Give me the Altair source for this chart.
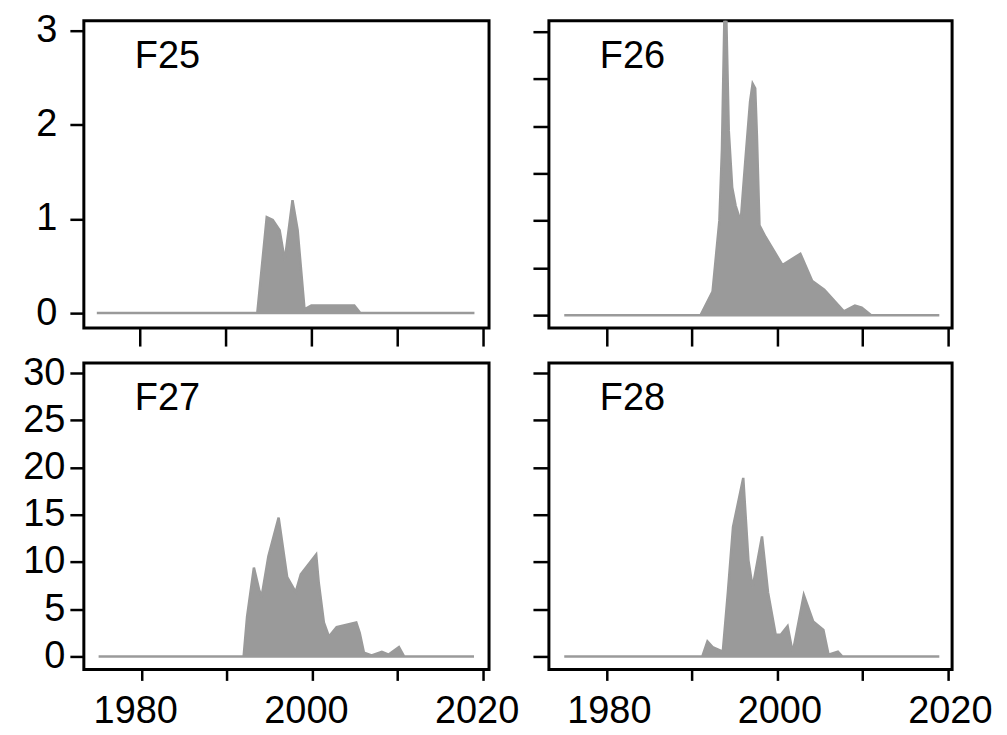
import altair as alt
import pandas as pd

# ---- data ----
yrs25 = [1975, 1993.7, 1994.8, 1995.5, 1996.3, 1996.9, 1997.8, 1998.4, 1999.2, 2000.0, 2002.0, 2005.0, 2005.7, 2019]
val25 = [0, 0, 1.02, 0.99, 0.88, 0.56, 1.2, 0.88, 0.04, 0.08, 0.08, 0.08, 0, 0]

yrs26 = [1975, 1991.0, 1992.4, 1993.2, 1993.5, 1993.8, 1994.0, 1994.3, 1994.7, 1995.1, 1995.7, 1996.0, 1996.3,
         1996.8, 1997.1, 1997.4, 1997.6, 1997.9, 1998.6, 2000.6, 2002.7, 2004.1, 2005.5, 2007.8, 2009.1, 2009.9,
         2011.0, 2019]
val26 = [0, 0, 0.25, 1.0, 1.75, 3.2, 3.2, 1.95, 1.35, 1.16, 0.99, 1.35, 1.7,
         2.26, 2.45, 2.4, 1.9, 0.95, 0.83, 0.53, 0.65, 0.36, 0.27, 0.04, 0.1, 0.08,
         0, 0]

yrs27 = [1975, 1992.0, 1992.4, 1993.2, 1993.8, 1994.1, 1994.9, 1996.1, 1997.1, 1998.1, 1998.7, 2000.5, 2000.8,
         2001.4, 2002.0, 2002.9, 2005.2, 2005.6, 2006.1, 2007.0, 2008.2, 2009.0, 2010.2, 2010.8, 2019]
val27 = [0, 0, 4.2, 9.4, 7.1, 6.3, 10.6, 14.7, 8.4, 6.8, 8.7, 10.8, 7.8,
         3.6, 2.1, 3.1, 3.6, 2.5, 0.4, 0.1, 0.5, 0.2, 1.0, 0, 0]

yrs28 = [1975, 1991.2, 1991.8, 1992.4, 1993.6, 1994.2, 1994.8, 1996.0, 1996.6, 1997.1, 1998.2, 1998.9, 1999.8,
         2000.4, 2001.2, 2001.8, 2003.1, 2004.2, 2005.4, 2006.0, 2007.1, 2007.6, 2019]
val28 = [0, 0, 1.6, 1.0, 0.5, 6.8, 13.7, 18.9, 10.2, 7.3, 12.7, 6.8, 2.3,
         2.3, 3.2, 0.4, 6.5, 3.7, 2.8, 0.2, 0.5, 0, 0]

labels = ["F25", "F26", "F27", "F28"]
x_ticks = [1980, 1990, 2000, 2010, 2020]
y_ticks_small_left = [0, 1, 2, 3]
y_ticks_small_right = [0, 0.5, 1, 1.5, 2, 2.5, 3]
y_ticks_large = [0, 5, 10, 15, 20, 25, 30]

FONT = "Liberation Sans"
GREY = "#9a9a9a"


def panel(years, vals, label, xdom, ydom, yvals, show_ylabels, show_xlabels,
          w, h, xtick, ytick, ypad, xoff=0):
    df = pd.DataFrame({"year": years, "value": vals})
    area = alt.Chart(df).mark_area(
        color=GREY, stroke=GREY, strokeWidth=2.5, clip=True
    ).encode(
        x=alt.X("year:Q",
                scale=alt.Scale(domain=xdom, nice=False, zero=False),
                axis=alt.Axis(values=x_ticks, format="d", title=None,
                              labels=show_xlabels, tickSize=xtick,
                              labelExpr="datum.value % 20 == 0 ? datum.label : ''",
                              labelPadding=12, labelOffset=xoff)),
        y=alt.Y("value:Q",
                scale=alt.Scale(domain=ydom, nice=False, zero=False),
                axis=alt.Axis(values=yvals, title=None, labels=show_ylabels,
                              tickSize=ytick, labelPadding=ypad)),
    )
    txt = alt.Chart(pd.DataFrame({"t": [label]})).mark_text(
        font=FONT, fontSize=38, align="left", baseline="alphabetic", color="black"
    ).encode(x=alt.value(51), y=alt.value(47), text="t:N")
    return alt.layer(area, txt).properties(width=w, height=h)


p1 = panel(yrs25, val25, labels[0], [1973.49, 2020.70], [-0.159, 3.106],
           y_ticks_small_left, True, False, 406, 308, 18, 14, 13)
p2 = panel(yrs26, val26, labels[1], [1973.2, 2020.5], [-0.137, 3.116],
           y_ticks_small_right, False, False, 404, 308, 18, 16, 5)
p3 = panel(yrs27, val27, labels[2], [1973.27, 2020.76], [-1.37, 31.06],
           y_ticks_large, True, True, 406, 307, 11, 14, 5, -6)
p4 = panel(yrs28, val28, labels[3], [1973.2, 2020.5], [-1.37, 31.06],
           y_ticks_large, False, True, 404, 307, 11, 16, 5, 2)

chart = alt.concat(p1, p2, p3, p4, columns=2, spacing={"row": 35, "column": 60},
                   bounds="flush").properties(
    padding={"left": 13, "top": 1, "right": 5, "bottom": 5},
    background="white",
).configure_view(
    stroke="black", strokeWidth=3
).configure_axis(
    labelFont=FONT, labelFontSize=38, labelColor="black",
    tickColor="black", tickWidth=2.5, domain=False, grid=False,
)

chart.save("out.html", embed_options={"renderer": "svg", "actions": False})
